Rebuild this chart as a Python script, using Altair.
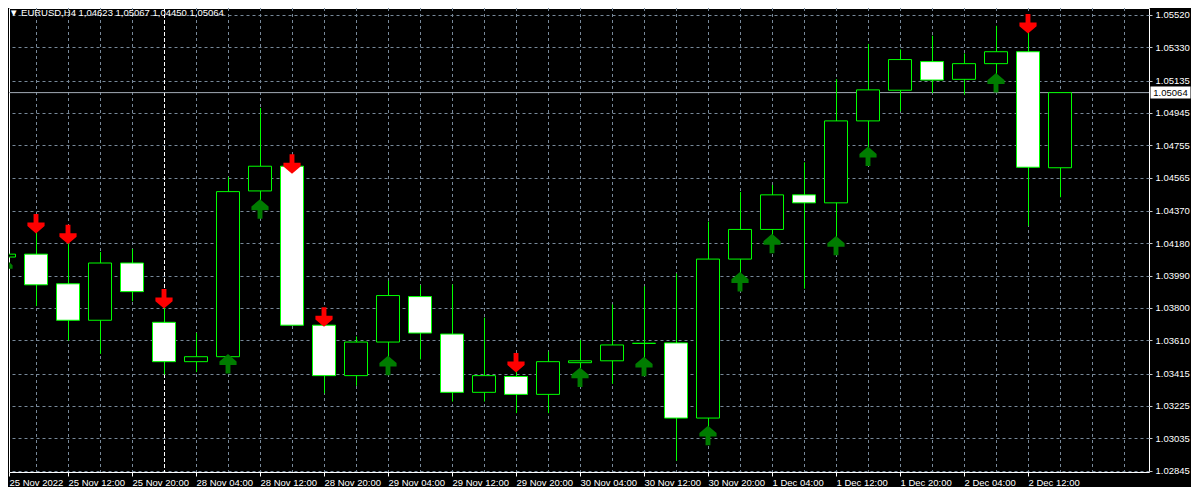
import json
import altair as alt
import pandas as pd

# ---------------- data ----------------
symbol = "EURUSD,H4"
bar_times = [
    "25 Nov 04:00", "25 Nov 08:00", "25 Nov 12:00", "25 Nov 16:00", "25 Nov 20:00",
    "28 Nov 00:00", "28 Nov 04:00", "28 Nov 08:00", "28 Nov 12:00", "28 Nov 16:00", "28 Nov 20:00",
    "29 Nov 00:00", "29 Nov 04:00", "29 Nov 08:00", "29 Nov 12:00", "29 Nov 16:00", "29 Nov 20:00",
    "30 Nov 00:00", "30 Nov 04:00", "30 Nov 08:00", "30 Nov 12:00", "30 Nov 16:00", "30 Nov 20:00",
    "1 Dec 00:00", "1 Dec 04:00", "1 Dec 08:00", "1 Dec 12:00", "1 Dec 16:00", "1 Dec 20:00",
    "2 Dec 00:00", "2 Dec 04:00", "2 Dec 08:00", "2 Dec 12:00", "2 Dec 16:00",
]
opens = [1.04099, 1.04116, 1.03942, 1.03728, 1.04064, 1.03716, 1.03485, 1.03514, 1.04487, 1.04632,
         1.03699, 1.03403, 1.03600, 1.03867, 1.03647, 1.03305, 1.03398, 1.03293, 1.03479, 1.03490,
         1.03592, 1.03595, 1.03154, 1.04087, 1.04261, 1.04464, 1.04417, 1.04898, 1.05078, 1.05246,
         1.05142, 1.05234, 1.05304, 1.04623]
highs = [1.04297, 1.04295, 1.04232, 1.04129, 1.04147, 1.03854, 1.03654, 1.04568, 1.04974, 1.04645,
         1.03747, 1.03633, 1.03960, 1.03934, 1.03938, 1.03743, 1.03479, 1.03544, 1.03612, 1.03821,
         1.03927, 1.04002, 1.04307, 1.04481, 1.04522, 1.04655, 1.05143, 1.05350, 1.05317, 1.05398,
         1.05294, 1.05456, 1.05468, 1.05067]
lows = [1.04037, 1.03811, 1.03608, 1.03531, 1.03840, 1.03409, 1.03424, 1.03472, 1.04381, 1.03699,
        1.03299, 1.03343, 1.03463, 1.03498, 1.03251, 1.03251, 1.03183, 1.03183, 1.03394, 1.03355,
        1.03457, 1.02903, 1.03052, 1.03954, 1.04178, 1.03913, 1.04166, 1.04690, 1.04954, 1.05062,
        1.05052, 1.05122, 1.04282, 1.04450]
closes = [1.04116, 1.03936, 1.03728, 1.04064, 1.03896, 1.03485, 1.03514, 1.04483, 1.04632, 1.03699,
          1.03403, 1.03600, 1.03873, 1.03653, 1.03305, 1.03403, 1.03293, 1.03485, 1.03490, 1.03583,
          1.03593, 1.03154, 1.04087, 1.04261, 1.04464, 1.04417, 1.04898, 1.05080, 1.05258, 1.05138,
          1.05234, 1.05304, 1.04626, 1.05064]

sell_bars = [1, 2, 5, 9, 10, 16, 32]
buy_bars = [0, 7, 8, 12, 18, 20, 22, 23, 24, 26, 27, 31]

price_ticks = [1.05520, 1.05330, 1.05135, 1.04945, 1.04755, 1.04565, 1.04370, 1.04180,
               1.03990, 1.03800, 1.03610, 1.03415, 1.03225, 1.03035, 1.02845]
time_tick_bars = [0, 2, 4, 6, 8, 10, 12, 14, 16, 18, 20, 22, 24, 26, 28, 30, 32]
time_tick_labels = ["25 Nov 2022", "25 Nov 12:00", "25 Nov 20:00", "28 Nov 04:00", "28 Nov 12:00",
                    "28 Nov 20:00", "29 Nov 04:00", "29 Nov 12:00", "29 Nov 20:00", "30 Nov 04:00",
                    "30 Nov 12:00", "30 Nov 20:00", "1 Dec 04:00", "1 Dec 12:00", "1 Dec 20:00",
                    "2 Dec 04:00", "2 Dec 12:00"]
grid_bars = [1, 2, 3, 4, 6, 7, 8, 9, 10, 11, 12, 13, 14, 15, 16, 17, 18, 19, 20, 21, 22, 23, 24,
             25, 26, 27, 28, 29, 30, 31, 32, 33, 34, 35]
separator_bars = [5]

# ---------------- layout / style ----------------
PLOT_W, PLOT_H = 1140, 464
x_domain = [5 / 32, (PLOT_W + 5) / 32]
y_domain = [1.028374, 1.055606]
FONT = "Liberation Sans, Arial, sans-serif"
FS = 9.5
LIME = "#00ff00"
GRID = "#778899"

x_scale = alt.Scale(domain=x_domain, nice=False, zero=False, padding=0)
y_scale = alt.Scale(domain=y_domain, nice=False, zero=False, padding=0)

df = pd.DataFrame({"bar": list(range(len(opens))), "time": bar_times, "open": opens,
                   "high": highs, "low": lows, "close": closes})
sell_df = pd.DataFrame({"bar": sell_bars, "price": [highs[i] for i in sell_bars]})
buy_df = pd.DataFrame({"bar": buy_bars, "price": [lows[i] for i in buy_bars]})
grid_df = pd.DataFrame({"bar": grid_bars})
sep_df = pd.DataFrame({"bar": separator_bars})

last = len(closes) - 1
fmt = lambda v: f"{v:.5f}".replace(".", ",")
title_text = f"\u25bc {symbol}  " + " ".join(fmt(v) for v in (opens[last], highs[last], lows[last], closes[last]))
title_df = pd.DataFrame({"t": [title_text]})
tag_df = pd.DataFrame({"price": [closes[last]], "label": [f"{closes[last]:.5f}"]})

x_tick_values = [max(b, x_domain[0]) for b in time_tick_bars]
label_expr = json.dumps(time_tick_labels) + "[round(datum.value / 2)]"

x_axis = alt.Axis(values=x_tick_values, labelExpr=label_expr, orient="bottom", grid=False,
                  domain=False, ticks=True, tickSize=4, tickColor="#ffffff",
                  labelColor="#ffffff", labelFont=FONT, labelFontSize=FS, labelAlign="left",
                  labelBaseline="top", labelPadding=1, labelFlush=False, labelOverlap=False,
                  labelAngle=0, title=None)
y_axis = alt.Axis(orient="right", values=price_ticks, format=".5f", grid=True, gridColor=GRID,
                  gridDash=[3, 3], gridWidth=1, domain=False, tickSize=3, tickColor="#c8c8c8",
                  labelColor="#ffffff", labelFont=FONT, labelFontSize=FS, labelPadding=3,
                  labelBaseline="middle", labelOverlap=False, title=None)

X = alt.X("bar:Q", scale=x_scale, axis=x_axis)


def Y(field):
    return alt.Y(field, scale=y_scale, axis=y_axis)


vgrid = alt.Chart(grid_df).mark_rule(color=GRID, strokeWidth=1, strokeDash=[3, 3], xOffset=0.5,
                                     clip=True).encode(x=X)
separator = alt.Chart(sep_df).mark_rule(color="#ffffff", strokeWidth=1, strokeDash=[4, 2],
                                        xOffset=0.5, clip=True).encode(x=X)
bid_line = alt.Chart(tag_df).mark_rule(color="#a3acb6", strokeWidth=1, clip=True).encode(
    y=Y("price:Q"))

wicks = alt.Chart(df).mark_rule(color=LIME, strokeWidth=1, xOffset=0.5, clip=True).encode(
    x=X, y=Y("low:Q"), y2="high:Q")
bodies = alt.Chart(df).mark_bar(size=23, stroke=LIME, strokeWidth=1, clip=True).encode(
    x=X, y=Y("open:Q"), y2="close:Q",
    fill=alt.condition("datum.close < datum.open", alt.value("#ffffff"), alt.value("#000000")),
    tooltip=["time:N", "open:Q", "high:Q", "low:Q", "close:Q"])

down_path = ("M-0.25,-1L0.25,-1L0.25,-0.12L0.88,-0.12L0.88,0.25L0,1"
             "L-0.88,0.25L-0.88,-0.12L-0.25,-0.12Z")
up_path = ("M-0.25,1L0.25,1L0.25,0.12L0.88,0.12L0.88,-0.25L0,-1"
           "L-0.88,-0.25L-0.88,0.12L-0.25,0.12Z")
sell_arrows = alt.Chart(sell_df).mark_point(shape=down_path, size=380, filled=True,
                                            color="#ff0000", opacity=1, strokeWidth=0,
                                            clip=True).encode(x=X, y=Y("price:Q"))
buy_arrows = alt.Chart(buy_df).mark_point(shape=up_path, size=380, filled=True,
                                          color="#007c00", opacity=1, strokeWidth=0,
                                          clip=True).encode(x=X, y=Y("price:Q"))

title = alt.Chart(title_df).mark_text(align="left", baseline="top", color="#ffffff", font=FONT,
                                      fontSize=FS).encode(
    x=alt.value(0), y=alt.value(0), text="t:N")

tag_box = alt.Chart(tag_df).mark_rect(height=12, fill="#ffffff").encode(
    x=alt.value(PLOT_W + 1.5), x2=alt.value(PLOT_W + 41.5), y=Y("price:Q"))
tag_text = alt.Chart(tag_df).mark_text(color="#000000", font=FONT, fontSize=FS, align="center",
                                       baseline="middle").encode(
    x=alt.value(PLOT_W + 21.5), y=Y("price:Q"), text="label:N")

chart = alt.layer(
    vgrid, separator, bid_line, wicks, bodies, sell_arrows, buy_arrows, title, tag_box, tag_text
).properties(
    width=PLOT_W, height=PLOT_H, padding=0, background="#000000"
).configure_view(stroke="#ffffff", strokeWidth=1)

chart.save("out.html", embed_options={"renderer": "svg", "actions": False})
